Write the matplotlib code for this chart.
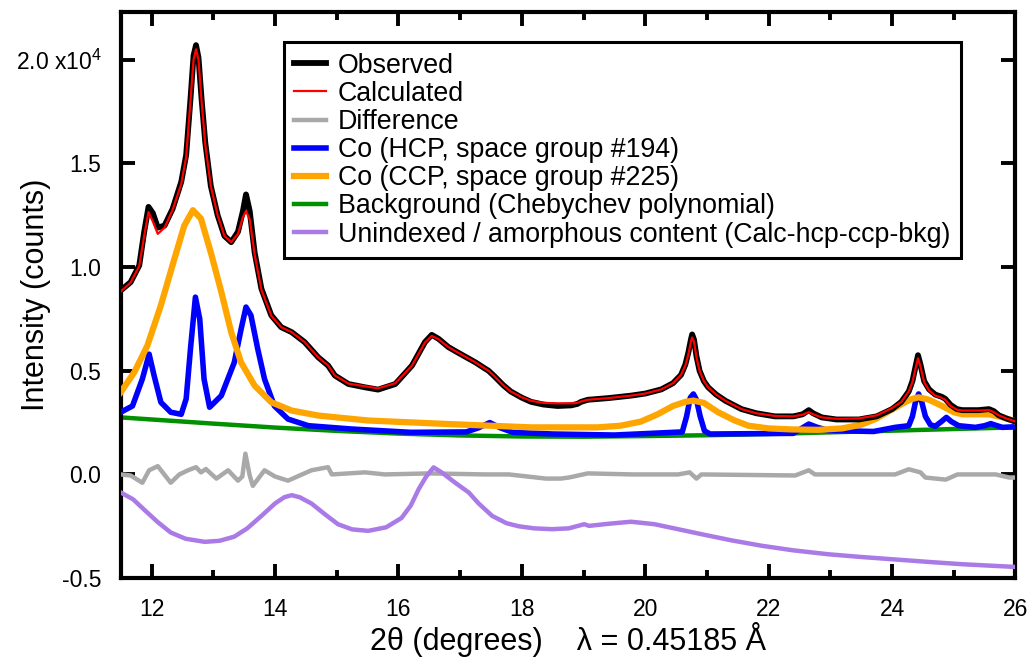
import matplotlib.pyplot as plt

plt.rcParams['font.family'] = ['Liberation Sans', 'DejaVu Sans']
plt.rcParams['mathtext.fontset'] = 'custom'
plt.rcParams['mathtext.rm'] = 'Liberation Sans'

# all intensities in units of 1e4 counts
tt_obs = [11.5, 11.66, 11.8, 11.88, 11.95, 12.02, 12.1, 12.21, 12.34, 12.48,
          12.56, 12.63, 12.68, 12.72, 12.76, 12.81, 12.87, 12.96, 13.07, 13.18,
          13.29, 13.4, 13.48, 13.53, 13.59, 13.67, 13.78, 13.94, 14.1, 14.27,
          14.48, 14.7, 14.86, 14.97, 15.19, 15.46, 15.67, 15.95, 16.22, 16.43,
          16.54, 16.65, 16.81, 16.95, 17.1, 17.25, 17.38, 17.46, 17.55, 17.7,
          17.82, 18.0, 18.15, 18.35, 18.58, 18.8, 18.9, 18.96, 19.07, 19.4,
          19.77, 20.0, 20.26, 20.45, 20.58, 20.65, 20.7, 20.74, 20.76, 20.79,
          20.83, 20.88, 20.95, 21.02, 21.15, 21.3, 21.56, 21.8, 22.1, 22.4,
          22.55, 22.65, 22.72, 22.86, 23.1, 23.46, 23.75, 24.0, 24.15, 24.27,
          24.33, 24.38, 24.42, 24.46, 24.52, 24.6, 24.7, 24.8, 24.86, 24.95,
          25.05, 25.14, 25.4, 25.57, 25.65, 25.73, 25.85, 26.0]
observed = [0.887, 0.927, 1.008, 1.17, 1.29, 1.26, 1.19, 1.20, 1.28, 1.41,
            1.54, 1.81, 2.02, 2.07, 2.01, 1.81, 1.60, 1.39, 1.25, 1.15,
            1.12, 1.17, 1.27, 1.35, 1.27, 1.07, 0.895, 0.767, 0.71, 0.686,
            0.638, 0.565, 0.525, 0.477, 0.436, 0.42, 0.409, 0.436, 0.525, 0.638,
            0.673, 0.654, 0.614, 0.59, 0.565, 0.54, 0.515, 0.50, 0.475, 0.43,
            0.40, 0.37, 0.35, 0.337, 0.33, 0.333, 0.34, 0.35, 0.36, 0.368,
            0.38, 0.39, 0.41, 0.44, 0.48, 0.53, 0.59, 0.65, 0.675, 0.65,
            0.57, 0.50, 0.45, 0.42, 0.385, 0.355, 0.315, 0.295, 0.28, 0.28,
            0.29, 0.31, 0.295, 0.275, 0.265, 0.265, 0.28, 0.315, 0.35, 0.40,
            0.45, 0.52, 0.575, 0.53, 0.45, 0.41, 0.385, 0.375, 0.365, 0.335,
            0.315, 0.31, 0.31, 0.315, 0.305, 0.285, 0.27, 0.255]
calculated = [0.882, 0.925, 1.005, 1.15, 1.265, 1.22, 1.16, 1.19, 1.275, 1.40,
              1.53, 1.80, 2.0, 2.05, 2.0, 1.80, 1.59, 1.39, 1.25, 1.15,
              1.12, 1.16, 1.24, 1.27, 1.23, 1.06, 0.89, 0.765, 0.71, 0.686,
              0.638, 0.565, 0.525, 0.477, 0.438, 0.425, 0.415, 0.44, 0.525, 0.636,
              0.668, 0.652, 0.614, 0.59, 0.565, 0.54, 0.515, 0.50, 0.475, 0.43,
              0.40, 0.372, 0.355, 0.345, 0.343, 0.343, 0.345, 0.352, 0.36, 0.368,
              0.38, 0.39, 0.41, 0.44, 0.48, 0.525, 0.58, 0.64, 0.66, 0.64,
              0.565, 0.50, 0.45, 0.42, 0.385, 0.355, 0.315, 0.295, 0.282, 0.28,
              0.288, 0.30, 0.29, 0.275, 0.268, 0.27, 0.285, 0.32, 0.35, 0.40,
              0.445, 0.51, 0.56, 0.52, 0.445, 0.405, 0.38, 0.37, 0.36, 0.33,
              0.312, 0.308, 0.308, 0.31, 0.30, 0.285, 0.27, 0.255]

tt_diff = [11.5, 11.66, 11.85, 11.96, 12.1, 12.31, 12.45, 12.59, 12.72, 12.8,
           12.88, 13.05, 13.24, 13.4, 13.47, 13.52, 13.59, 13.64, 13.83, 14.0,
           14.21, 14.59, 14.86, 14.92, 15.46, 15.78, 16.5, 17.41, 17.79, 18.39,
           18.63, 18.76, 19.07, 19.8, 20.53, 20.72, 20.83, 20.91, 22.43, 22.65,
           22.75, 24.05, 24.27, 24.46, 24.54, 24.87, 25.06, 25.68, 25.9, 26.0]
difference = [0.0, -0.005, -0.04, 0.02, 0.04, -0.04, 0.0, 0.02, 0.035, 0.01,
              0.026, -0.02, 0.02, -0.03, -0.01, 0.10, -0.005, -0.055, 0.02, -0.01,
              -0.03, 0.02, 0.035, 0.0, 0.01, 0.0, 0.005, 0.0, 0.0, -0.02,
              -0.02, -0.015, 0.005, 0.0, 0.0, 0.01, -0.02, 0.0, -0.005, 0.02,
              0.0, 0.0, 0.025, 0.01, -0.015, -0.025, 0.0, 0.0, -0.015, -0.015]

tt_hcp = [11.5, 11.69, 11.85, 11.96, 12.04, 12.15, 12.31, 12.48, 12.56, 12.63,
          12.71, 12.78, 12.85, 12.94, 13.13, 13.34, 13.45, 13.53, 13.61, 13.72,
          13.83, 13.99, 14.21, 14.54, 15.24, 16.2, 17.1, 17.3, 17.48, 17.65,
          17.85, 18.5, 19.5, 20.6, 20.67, 20.73, 20.78, 20.83, 20.89, 20.96,
          21.05, 22.4, 22.55, 22.65, 22.78, 22.97, 23.7, 24.05, 24.27, 24.33,
          24.38, 24.43, 24.48, 24.54, 24.62, 24.7, 24.8, 24.88, 24.96, 25.08,
          25.35, 25.5, 25.6, 25.7, 25.79, 26.0]
hcp = [0.30, 0.33, 0.46, 0.58, 0.477, 0.348, 0.30, 0.29, 0.364, 0.605,
       0.855, 0.75, 0.46, 0.324, 0.38, 0.54, 0.70, 0.807, 0.767, 0.605,
       0.46, 0.33, 0.267, 0.235, 0.219, 0.203, 0.205, 0.225, 0.25, 0.225,
       0.203, 0.195, 0.19, 0.205, 0.28, 0.37, 0.388, 0.36, 0.28, 0.21,
       0.195, 0.198, 0.225, 0.243, 0.228, 0.212, 0.207, 0.227, 0.235, 0.28,
       0.35, 0.388, 0.35, 0.28, 0.24, 0.232, 0.255, 0.275, 0.255, 0.235,
       0.227, 0.235, 0.245, 0.235, 0.227, 0.23]

tt_ccp = [11.5, 11.72, 11.93, 12.15, 12.37, 12.53, 12.67, 12.8, 12.96, 13.13,
          13.29, 13.45, 13.67, 13.94, 14.27, 14.7, 15.51, 16.81, 18.15, 19.23,
          19.6, 19.93, 20.2, 20.45, 20.65, 20.78, 20.95, 21.18, 21.45, 21.67,
          22.0, 22.37, 22.8, 23.19, 23.5, 23.73, 23.95, 24.16, 24.3, 24.43,
          24.6, 24.81, 25.0, 25.14, 25.4, 25.57, 25.8, 26.0]
ccp = [0.396, 0.493, 0.62, 0.815, 1.04, 1.20, 1.274, 1.233, 1.07, 0.88,
       0.686, 0.54, 0.428, 0.348, 0.308, 0.284, 0.26, 0.243, 0.227, 0.227,
       0.235, 0.255, 0.29, 0.33, 0.35, 0.356, 0.345, 0.30, 0.26, 0.235,
       0.222, 0.217, 0.215, 0.222, 0.24, 0.267, 0.305, 0.34, 0.362, 0.372,
       0.36, 0.33, 0.30, 0.29, 0.29, 0.29, 0.275, 0.255]

tt_bkg = [11.5, 12, 13, 14, 15, 16, 17, 18, 19, 20, 21, 22, 23, 24, 25, 26]
background = [0.275, 0.265, 0.245, 0.226, 0.21, 0.197, 0.188, 0.183, 0.182,
              0.185, 0.189, 0.195, 0.203, 0.211, 0.219, 0.227]

tt_amor = [11.5, 11.7, 11.88, 12.1, 12.31, 12.55, 12.86, 13.1, 13.34, 13.55,
           13.78, 14.0, 14.15, 14.27, 14.4, 14.59, 14.8, 15.02, 15.25, 15.51,
           15.8, 16.05, 16.2, 16.33, 16.45, 16.57, 16.7, 16.92, 17.14, 17.3,
           17.52, 17.75, 17.95, 18.2, 18.49, 18.76, 19.01, 19.09, 19.4, 19.77,
           20.15, 20.5, 20.91, 21.4, 21.89, 22.4, 22.97, 23.5, 24.05, 24.6,
           25.14, 25.6, 26.0]
amorphous = [-0.087, -0.12, -0.17, -0.23, -0.28, -0.31, -0.325, -0.32, -0.30, -0.26,
             -0.20, -0.14, -0.11, -0.10, -0.11, -0.14, -0.19, -0.24, -0.265, -0.272,
             -0.255, -0.21, -0.15, -0.07, -0.01, 0.034, 0.01, -0.04, -0.087, -0.14,
             -0.20, -0.235, -0.25, -0.26, -0.264, -0.26, -0.24, -0.248, -0.238, -0.228,
             -0.24, -0.262, -0.288, -0.318, -0.344, -0.366, -0.385, -0.398, -0.41, -0.422,
             -0.433, -0.44, -0.446]

ytick_vals = [-0.5, 0.0, 0.5, 1.0, 1.5, 2.0]
ytick_labels = ['-0.5', '0.0', '0.5', '1.0', '1.5', r'2.0 x10$\mathregular{^4}$']
xtick_vals = [12, 14, 16, 18, 20, 22, 24, 26]

fig = plt.figure(figsize=(10.32, 6.63), dpi=100)
ax = fig.add_axes([0.117, 0.128, 0.867, 0.854])

ax.plot(tt_bkg, background, color='#009000', lw=3.2, label='Background (Chebychev polynomial)', zorder=2)
ax.plot(tt_hcp, hcp, color='#0000FF', lw=4.0, label='Co (HCP, space group #194)', zorder=3)
ax.plot(tt_ccp, ccp, color='#FFA500', lw=4.5, label='Co (CCP, space group #225)', zorder=4)
ax.plot(tt_diff, difference, color='#A9A9A9', lw=3.2, label='Difference', zorder=5)
ax.plot(tt_amor, amorphous, color='#AA7AE6', lw=3.2,
        label='Unindexed / amorphous content (Calc-hcp-ccp-bkg)', zorder=6)
ax.plot(tt_obs, observed, color='black', lw=4.2, label='Observed', zorder=7)
ax.plot(tt_obs, calculated, color='#FF0000', lw=1.6, label='Calculated', zorder=8)

ax.set_xlim(11.5, 26)
ax.set_ylim(-0.5, 2.23)
ax.set_xticks(xtick_vals)
ax.set_xticks([13, 15, 17, 19, 21, 23, 25], minor=True)
ax.set_yticks(ytick_vals)
ax.set_yticklabels(ytick_labels)
ax.tick_params(which='both', direction='in', top=True, right=True, labelsize=16.5, width=2.8)
ax.tick_params(which='major', length=10, pad=14)
ax.tick_params(which='minor', length=6)
for s in ax.spines.values():
    s.set_linewidth(3)

ax.set_ylabel('Intensity (counts)', fontsize=22)
ax.yaxis.set_label_coords(-0.078, 0.5)
ax.set_xlabel('2θ (degrees)    λ = 0.45185 Å', fontsize=22)
ax.xaxis.set_label_coords(0.5, -0.078)

handles, labels = ax.get_legend_handles_labels()
order = ['Observed', 'Calculated', 'Difference', 'Co (HCP, space group #194)',
         'Co (CCP, space group #225)', 'Background (Chebychev polynomial)',
         'Unindexed / amorphous content (Calc-hcp-ccp-bkg)']
hmap = dict(zip(labels, handles))
leg = ax.legend([hmap[k] for k in order], order, loc='upper left',
                bbox_to_anchor=(0.182, 0.947), borderaxespad=0, fontsize=19.3,
                fancybox=False, framealpha=1, edgecolor='black',
                handlelength=1.2, handletextpad=0.42, labelspacing=0.08,
                borderpad=0.4)
leg.get_frame().set_linewidth(2.2)

fig.savefig('out.png', dpi=100)
